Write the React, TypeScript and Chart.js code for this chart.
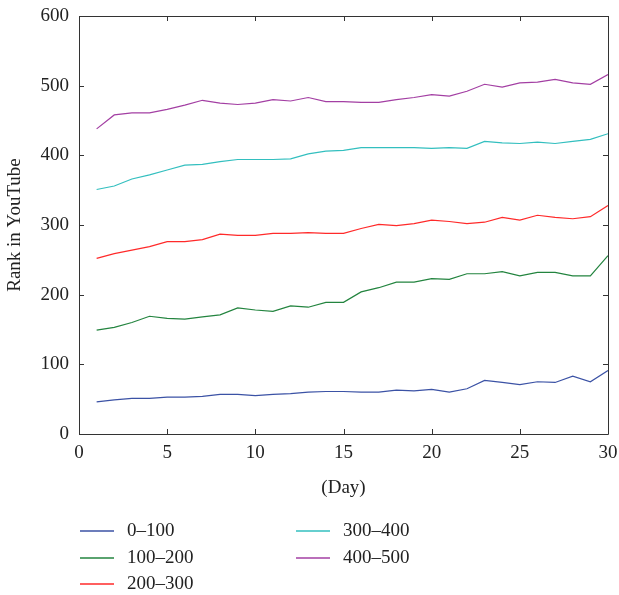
import React, { useEffect, useRef } from "react";
import { Chart, registerables } from "chart.js";

Chart.register(...registerables);

const days = Array.from({ length: 30 }, (_, i) => i + 1);
const seriesLabels = ["0–100", "100–200", "200–300", "300–400", "400–500"];
const seriesColors = ["#3b52a5", "#23843f", "#ff2a2a", "#33bfbf", "#a33fa3"];

const rank0to100 = [46, 49, 51, 51, 53, 53, 54, 57, 57, 55, 57, 58, 60, 61, 61, 60, 60, 63, 62, 64, 60, 65, 77, 74, 71, 75, 74, 83, 75, 91];
const rank100to200 = [149, 153, 160, 169, 166, 165, 168, 171, 181, 178, 176, 184, 182, 189, 189, 204, 210, 218, 218, 223, 222, 230, 230, 233, 227, 232, 232, 227, 227, 256];
const rank200to300 = [252, 259, 264, 269, 276, 276, 279, 287, 285, 285, 288, 288, 289, 288, 288, 295, 301, 299, 302, 307, 305, 302, 304, 311, 307, 314, 311, 309, 312, 328];
const rank300to400 = [351, 356, 366, 372, 379, 386, 387, 391, 394, 394, 394, 395, 402, 406, 407, 411, 411, 411, 411, 410, 411, 410, 420, 418, 417, 419, 417, 420, 423, 431];
const rank400to500 = [438, 458, 461, 461, 466, 472, 479, 475, 473, 475, 480, 478, 483, 477, 477, 476, 476, 480, 483, 487, 485, 492, 502, 498, 504, 505, 509, 504, 502, 516];

const allSeries = [rank0to100, rank100to200, rank200to300, rank300to400, rank400to500];

const xTicks = [0, 5, 10, 15, 20, 25, 30];
const yTicks = [0, 100, 200, 300, 400, 500, 600];

const FONT = "'Liberation Serif', 'DejaVu Serif', serif";

const boxPlugin = {
  id: "boxAndTicks",
  afterDraw(chart: any) {
    const { ctx, chartArea } = chart;
    const xs = chart.scales.x;
    const ys = chart.scales.y;
    const tl = 5;
    ctx.save();
    ctx.strokeStyle = "#333";
    ctx.lineWidth = 1;
    ctx.beginPath();
    ctx.rect(Math.round(chartArea.left) + 0.5, Math.round(chartArea.top) + 0.5, Math.round(chartArea.right - chartArea.left), Math.round(chartArea.bottom - chartArea.top));
    ctx.stroke();
    ctx.beginPath();
    xTicks.forEach((v) => {
      const px = Math.round(xs.getPixelForValue(v)) + 0.5;
      ctx.moveTo(px, chartArea.bottom);
      ctx.lineTo(px, chartArea.bottom - tl);
      ctx.moveTo(px, chartArea.top);
      ctx.lineTo(px, chartArea.top + tl);
    });
    yTicks.forEach((v) => {
      const py = Math.round(ys.getPixelForValue(v)) + 0.5;
      ctx.moveTo(chartArea.left, py);
      ctx.lineTo(chartArea.left + tl, py);
      ctx.moveTo(chartArea.right, py);
      ctx.lineTo(chartArea.right - tl, py);
    });
    ctx.stroke();

    // legend, column-major in two columns
    const ds = chart.data.datasets;
    const cols = [
      { lineX: 80, textX: 127 },
      { lineX: 296, textX: 343 },
    ];
    const rowY = [531, 558, 584];
    ctx.font = `19px ${FONT}`;
    ctx.textBaseline = "middle";
    ctx.textAlign = "left";
    ds.forEach((d: any, i: number) => {
      const c = cols[Math.floor(i / 3)];
      const y = rowY[i % 3];
      ctx.strokeStyle = d.borderColor;
      ctx.lineWidth = 1.3;
      ctx.beginPath();
      ctx.moveTo(c.lineX, y);
      ctx.lineTo(c.lineX + 34, y);
      ctx.stroke();
      ctx.fillStyle = "#222";
      ctx.fillText(d.label, c.textX, y);
    });
    ctx.restore();
  },
};

const zeroPad = (s: any) => {
  s.paddingLeft = 0;
  s.paddingRight = 0;
  s.paddingTop = 0;
  s.paddingBottom = 0;
};

export default function App() {
  const ref = useRef<HTMLCanvasElement | null>(null);
  useEffect(() => {
    document.body.style.margin = "0";
    const canvas = ref.current;
    if (!canvas) return;
    const chart = new Chart(canvas, {
      type: "line",
      data: {
        datasets: allSeries.map((vals, i) => ({
          label: seriesLabels[i],
          data: days.map((d, j) => ({ x: d, y: vals[j] })),
          borderColor: seriesColors[i],
          backgroundColor: seriesColors[i],
          borderWidth: 1.2,
          pointRadius: 0,
          tension: 0,
          fill: false,
        })),
      },
      options: {
        responsive: false,
        animation: false,
        devicePixelRatio: 1,
        layout: { padding: { left: 0, right: 11, top: 16, bottom: 91 } },
        plugins: {
          legend: { display: false },
          tooltip: { enabled: false },
        },
        scales: {
          x: {
            type: "linear",
            min: 0,
            max: 30,
            afterFit: (s: any) => {
              s.height = 70;
              zeroPad(s);
            },
            afterBuildTicks: (s: any) => {
              s.ticks = xTicks.map((v) => ({ value: v }));
            },
            grid: { display: true, drawOnChartArea: false, drawTicks: false },
            border: { display: false },
            ticks: {
              padding: 8,
              color: "#222",
              font: { family: FONT, size: 19 },
              maxRotation: 0,
            },
            title: {
              display: true,
              text: "(Day)",
              color: "#222",
              font: { family: FONT, size: 19 },
              padding: { top: 0, bottom: 5 },
            },
          },
          y: {
            type: "linear",
            min: 0,
            max: 600,
            afterFit: (s: any) => {
              s.width = 79;
              zeroPad(s);
            },
            afterBuildTicks: (s: any) => {
              s.ticks = yTicks.map((v) => ({ value: v }));
            },
            grid: { display: true, drawOnChartArea: false, drawTicks: false },
            border: { display: false },
            ticks: {
              padding: 10,
              color: "#222",
              font: { family: FONT, size: 19 },
            },
            title: {
              display: true,
              text: "Rank in YouTube",
              color: "#222",
              font: { family: FONT, size: 19 },
              padding: { top: 4, bottom: 0 },
            },
          },
        },
      },
      plugins: [boxPlugin],
    });
    return () => chart.destroy();
  }, []);
  return (
    <div style={{ width: 619, height: 595 }}>
      <canvas ref={ref} width={619} height={595} style={{ display: "block" }} />
    </div>
  );
}
